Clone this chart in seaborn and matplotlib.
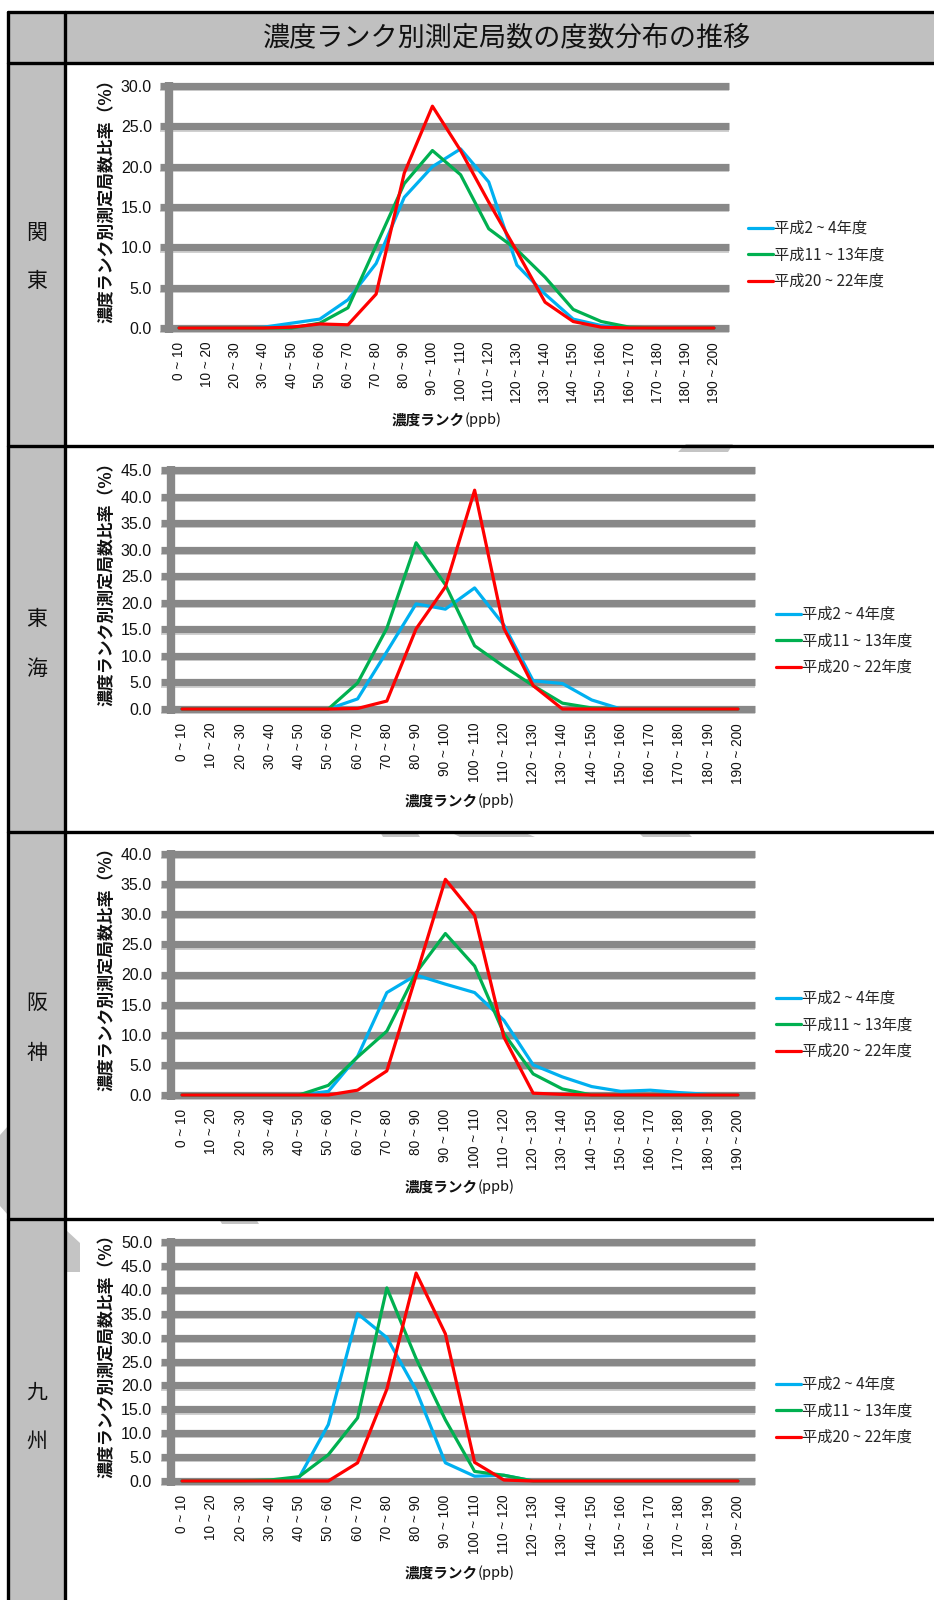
import numpy as np
import pandas as pd
import matplotlib
matplotlib.use('Agg')
import matplotlib.pyplot as plt
import matplotlib.transforms as mtransforms
from matplotlib import font_manager
from matplotlib.lines import Line2D
from matplotlib.patches import Rectangle, Polygon
import seaborn as sns

# ---------------- data ----------------
title = '濃度ランク別測定局数の度数分布の推移'
regions = ['関東', '東海', '阪神', '九州']
periods = ['平成2 ~ 4年度', '平成11 ~ 13年度', '平成20 ~ 22年度']
rank_labels = ['%d ~ %d' % (i * 10, i * 10 + 10) for i in range(20)]
ylabel = '濃度ランク別測定局数比率（%）'

kanto_h2  = [0, 0, 0, 0.1, 0.6, 1.1, 3.5, 8.0, 16.2, 20.0, 22.2, 18.1, 7.8, 4.2, 1.1, 0.3, 0, 0, 0, 0]
kanto_h11 = [0, 0, 0, 0, 0, 0.6, 2.5, 10.2, 17.9, 22.0, 19.0, 12.3, 9.7, 6.3, 2.3, 0.8, 0.1, 0, 0, 0]
kanto_h20 = [0, 0, 0, 0, 0.1, 0.5, 0.4, 4.2, 19.2, 27.5, 22.0, 15.6, 9.5, 3.2, 0.8, 0.1, 0, 0, 0, 0]

tokai_h2  = [0, 0, 0, 0, 0, 0, 1.9, 10.8, 19.8, 18.8, 22.8, 15.8, 5.3, 4.8, 1.7, 0, 0, 0, 0, 0]
tokai_h11 = [0, 0, 0, 0, 0, 0, 4.9, 15.2, 31.3, 23.4, 11.9, 8.0, 4.4, 1.1, 0.2, 0, 0, 0, 0, 0]
tokai_h20 = [0, 0, 0, 0, 0, 0, 0.1, 1.5, 15.1, 23.0, 41.2, 15.2, 4.4, 0, 0, 0, 0, 0, 0, 0]

hanshin_h2  = [0, 0, 0, 0, 0, 0.6, 6.4, 17.0, 19.9, 18.4, 17.0, 12.4, 5.0, 3.0, 1.4, 0.6, 0.8, 0.4, 0.1, 0]
hanshin_h11 = [0, 0, 0, 0, 0, 1.6, 6.3, 10.6, 20.3, 26.8, 21.4, 10.2, 3.5, 1.0, 0, 0, 0, 0, 0, 0]
hanshin_h20 = [0, 0, 0, 0, 0, 0, 0.8, 4.0, 19.8, 35.8, 29.8, 9.6, 0.3, 0.1, 0, 0, 0, 0, 0, 0]

kyushu_h2  = [0, 0, 0, 0, 0.7, 11.8, 35.0, 30.0, 19.0, 3.8, 1.0, 1.2, 0, 0, 0, 0, 0, 0, 0, 0]
kyushu_h11 = [0, 0, 0, 0.2, 0.9, 5.5, 13.2, 40.4, 25.6, 12.8, 2.0, 1.2, 0, 0, 0, 0, 0, 0, 0, 0]
kyushu_h20 = [0, 0, 0, 0, 0, 0, 3.8, 19.2, 43.5, 30.8, 3.9, 0.2, 0, 0, 0, 0, 0, 0, 0, 0]

series = [(kanto_h2, kanto_h11, kanto_h20),
          (tokai_h2, tokai_h11, tokai_h20),
          (hanshin_h2, hanshin_h11, hanshin_h20),
          (kyushu_h2, kyushu_h11, kyushu_h20)]
ymaxes = [30, 45, 40, 50]

colors = ['#00B0F0', '#00B050', '#FF0000']

# ---------------- layout (pixels) ----------------
W, H = 934, 1600
# zero line y, top line y, first/last category x, grid left/right, legend x/y, region label y
layout = [
    dict(y0=328, ytop=86, c0=179, c19=714, gx0=160, gx1=729, yax=169, legx=748, legy=255, ry=(233, 281)),
    dict(y0=709, ytop=470, c0=182, c19=738, gx0=161, gx1=755, yax=171, legx=776, legy=641, ry=(619, 669)),
    dict(y0=1095, ytop=854, c0=182, c19=738, gx0=161, gx1=755, yax=171, legx=776, legy=1025, ry=(1003, 1053)),
    dict(y0=1481, ytop=1242, c0=182, c19=738, gx0=161, gx1=755, yax=171, legx=776, legy=1411, ry=(1393, 1442)),
]


def fx(px):
    return px / W


def fy(py):
    return 1 - py / H


def has_font(name):
    try:
        font_manager.findfont(font_manager.FontProperties(family=name), fallback_to_default=False)
        return True
    except ValueError:
        return False


sns.set_style('white')
plt.rcParams['font.family'] = ['Noto Sans CJK JP', 'DejaVu Sans']

if has_font('Liberation Sans Narrow'):
    num_font, ytick_size, xtick_size = ['Liberation Sans Narrow'], 14.3, 12
else:
    num_font, ytick_size, xtick_size = ['Liberation Sans', 'DejaVu Sans'], 11.5, 9.8

fig = plt.figure(figsize=(W / 100, H / 100), dpi=100)
fig.patch.set_facecolor('white')
renderer = fig.canvas.get_renderer()

# ---------------- table frame ----------------
gray_cell = '#c0c0c0'
fig.add_artist(Rectangle((fx(8), 0), fx(65) - fx(8), fy(12), transform=fig.transFigure,
                         facecolor=gray_cell, edgecolor='none', zorder=-2))
fig.add_artist(Rectangle((fx(65), fy(63)), 1 - fx(65), fy(12) - fy(63), transform=fig.transFigure,
                         facecolor=gray_cell, edgecolor='none', zorder=-2))

# faint scan marks
marks = [
    [(686, 444), (733, 444), (728, 452), (678, 452)],
    [(380, 832), (417, 832), (420, 837), (383, 837)],
    [(450, 832), (523, 832), (535, 837), (460, 837)],
    [(638, 832), (687, 832), (692, 837), (643, 837)],
    [(219, 1219), (256, 1219), (259, 1224), (222, 1224)],
    [(0, 1135), (8, 1126), (8, 1215), (0, 1206)],
    [(66, 1230), (80, 1243), (80, 1272), (66, 1272)],
]
for m in marks:
    fig.add_artist(Polygon([(fx(a), fy(b)) for a, b in m], closed=True, transform=fig.transFigure,
                           facecolor='#c4c4c4', edgecolor='none', zorder=-1))

for yy in [12, 63, 446, 832, 1219]:
    fig.add_artist(Line2D([fx(8), 1], [fy(yy), fy(yy)], color='black', lw=2.4,
                          transform=fig.transFigure, zorder=5))
for xx in [8, 65]:
    fig.add_artist(Line2D([fx(xx), fx(xx)], [fy(12), 0], color='black', lw=2.4,
                          transform=fig.transFigure, zorder=5))

fig.text(fx(507), fy(38), title, ha='center', va='center', fontsize=19.5, color='#111111')

# ---------------- charts ----------------
for region, data, ymax, lay in zip(regions, series, ymaxes, layout):
    sp = (lay['c19'] - lay['c0']) / 19.0
    left = lay['c0'] - sp / 2
    right = lay['c19'] + sp / 2
    ax = fig.add_axes([fx(left), fy(lay['y0']), (right - left) / W, (lay['y0'] - lay['ytop']) / H])
    ax.set_facecolor('none')
    ax.set_xlim(-0.5, 19.5)
    ax.set_ylim(0, ymax)
    for s in ax.spines.values():
        s.set_visible(False)

    ppu = (lay['y0'] - lay['ytop']) / ymax
    yt = np.arange(0, ymax + 0.1, 5)
    gx0 = (lay['gx0'] - lay['c0']) / sp
    gx1 = (lay['gx1'] - lay['c0']) / sp
    xa = (lay['yax'] - lay['c0']) / sp

    shade = mtransforms.offset_copy(ax.transData, fig=fig, y=-4.2, units='dots')
    ax.hlines(yt, gx0, gx1, colors='#c2c2c2', lw=1.1, clip_on=False, zorder=0.9, transform=shade)
    ax.hlines(yt, gx0, gx1, colors='#888888', lw=5.2, clip_on=False, zorder=1)
    ax.vlines(xa, -4.5 / ppu, ymax + 3.6 / ppu, colors='#888888', lw=6, clip_on=False, zorder=1.5)

    df = pd.DataFrame({
        'rank': np.tile(np.arange(20), 3),
        'value': np.concatenate([np.asarray(d, dtype=float) for d in data]),
        'period': np.repeat(periods, 20),
    })
    sns.lineplot(data=df, x='rank', y='value', hue='period', hue_order=periods,
                 palette=colors, linewidth=2.3, estimator=None, sort=False,
                 legend=False, ax=ax)
    for ln in ax.lines:
        ln.set_zorder(3)
        ln.set_clip_on(False)

    ax.set_xlabel('')
    ax.set_ylabel('')
    ax.set_xticks(range(20))
    ax.set_xticklabels(rank_labels, rotation=90, fontsize=xtick_size, family=num_font)
    ax.set_yticks(yt)
    ax.set_yticklabels(['%.1f' % v for v in yt], fontsize=ytick_size, family=num_font)
    ax.tick_params(axis='x', length=0, pad=10, colors='#111111')
    ax.tick_params(axis='y', length=0, pad=(left - 152) * 0.72, colors='#111111')

    # y label
    ymid = (lay['y0'] + lay['ytop']) / 2 - 10
    fig.text(fx(106), fy(ymid), ylabel, rotation=90, ha='center', va='center',
             fontsize=12.2, fontweight='bold', color='#111111')

    # x label: bold part + normal part
    cx = (lay['c0'] + lay['c19']) / 2
    ly = lay['y0'] + 92
    t1 = fig.text(0, 0, '濃度ランク', fontsize=10.5, fontweight='bold', va='center', ha='left', color='#111111')
    t2 = fig.text(0, 0, '(ppb)', fontsize=10.5, va='center', ha='left', color='#111111')
    w1 = t1.get_window_extent(renderer).width
    w2 = t2.get_window_extent(renderer).width
    x_start = cx - (w1 + w2) / 2
    t1.set_position((fx(x_start), fy(ly)))
    t2.set_position((fx(x_start + w1), fy(ly)))

    # legend
    handles = [Line2D([], [], color=c, lw=2.3) for c in colors]
    ax.legend(handles, periods, loc='center left', bbox_to_anchor=(fx(lay['legx']), fy(lay['legy'])),
              bbox_transform=fig.transFigure, frameon=False, fontsize=11,
              handlelength=1.65, handletextpad=0.05, labelspacing=0.62,
              borderpad=0, borderaxespad=0)

    # region name in the left column
    for ch, yy in zip(region, lay['ry']):
        fig.text(fx(37), fy(yy), ch, ha='center', va='center', fontsize=15, color='#111111')

fig.savefig('out.png', dpi=100, facecolor='white')
